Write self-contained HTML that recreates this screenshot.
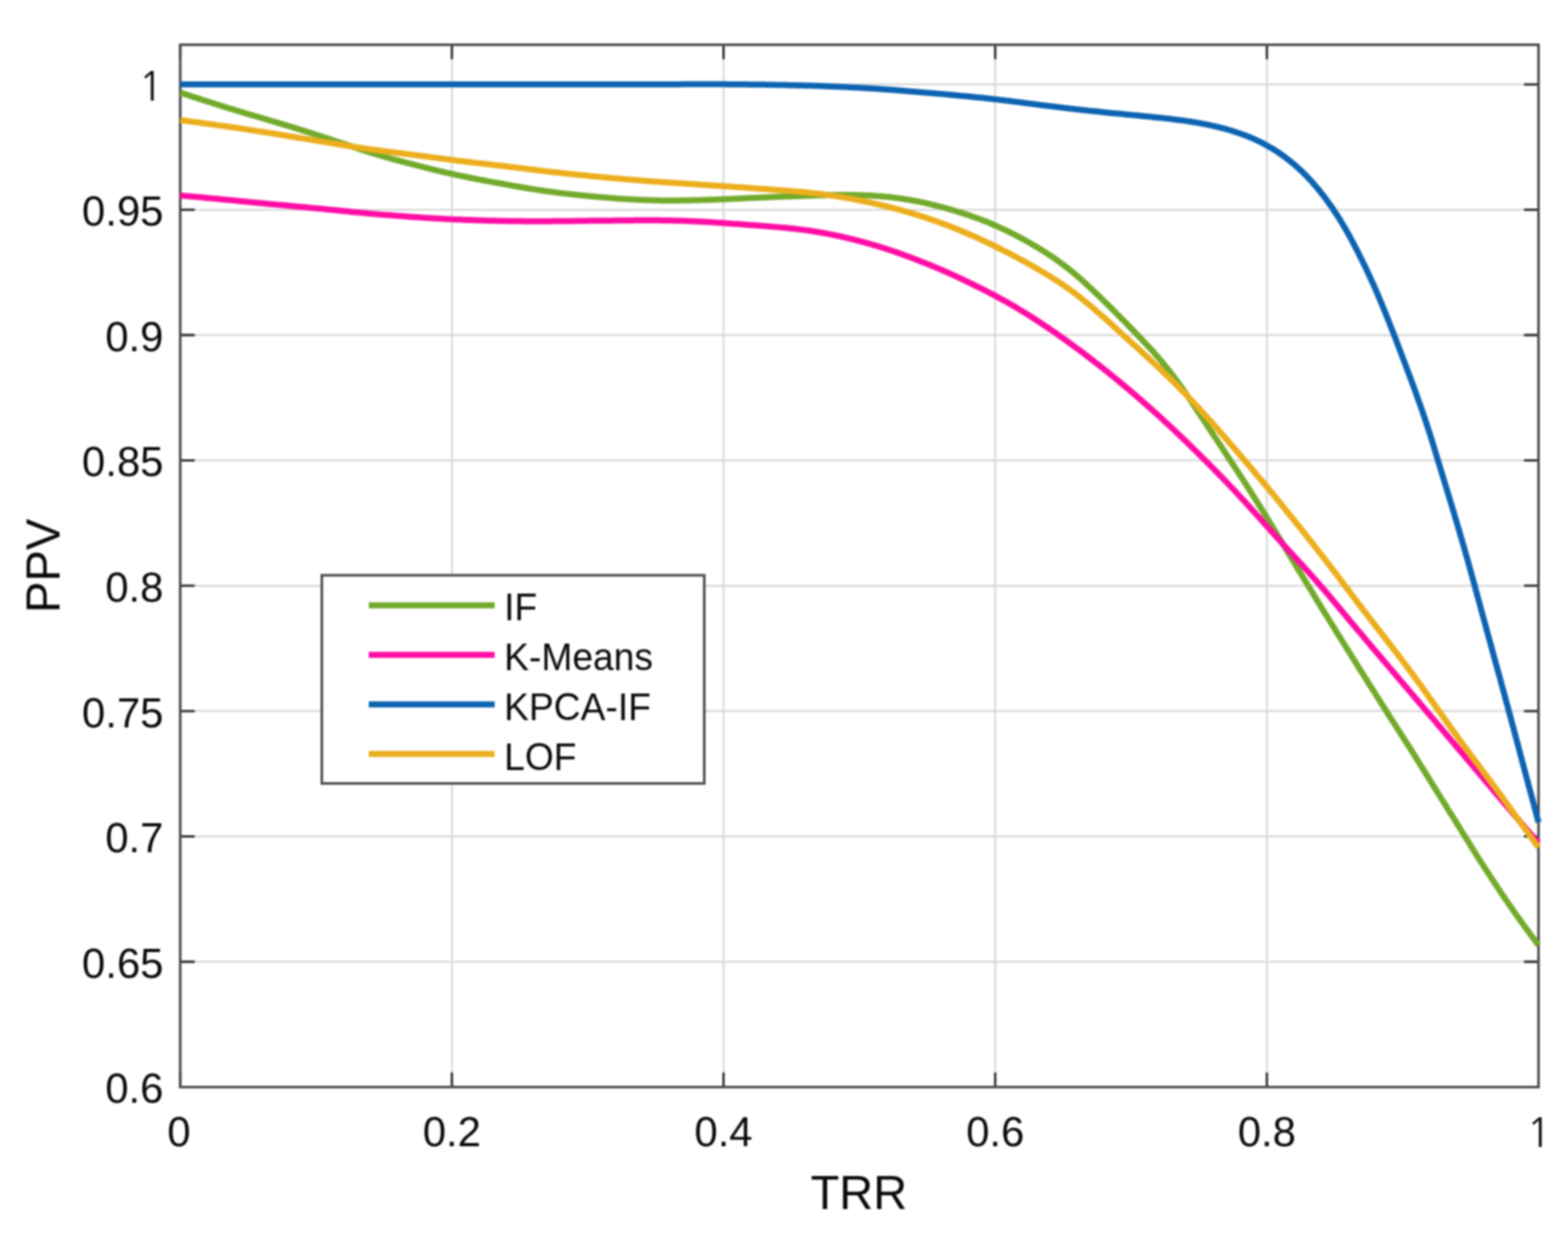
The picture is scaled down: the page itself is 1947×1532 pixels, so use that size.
<!DOCTYPE html><html><head><meta charset="utf-8"><style>html,body{margin:0;padding:0;background:#fff;width:1947px;height:1532px;overflow:hidden}svg{display:block;filter:blur(1px)}text{font-family:"Liberation Sans",Arial,sans-serif;fill:#0a0a0a}.one{font-family:"NanumGothic","Liberation Sans",sans-serif}</style></head><body>
<svg xmlns="http://www.w3.org/2000/svg" width="1947" height="1532" viewBox="0 0 1947 1532">
<rect width="1947" height="1532" fill="#fff"/>
<path d="M561.1 55.6 V1349.6 M898.4 55.6 V1349.6 M1235.8 55.6 V1349.6 M1573.1 55.6 V1349.6 M223.8 1194.0 H1910.4 M223.8 1038.4 H1910.4 M223.8 882.8 H1910.4 M223.8 727.2 H1910.4 M223.8 571.6 H1910.4 M223.8 416.0 H1910.4 M223.8 260.4 H1910.4 M223.8 104.8 H1910.4" stroke="#dadada" stroke-width="2.5" fill="none"/>
<path d="M223.8 1349.6 v-18 M223.8 55.6 v18 M561.1 1349.6 v-18 M561.1 55.6 v18 M898.4 1349.6 v-18 M898.4 55.6 v18 M1235.8 1349.6 v-18 M1235.8 55.6 v18 M1573.1 1349.6 v-18 M1573.1 55.6 v18 M1910.4 1349.6 v-18 M1910.4 55.6 v18 M223.8 1349.6 h18 M1910.4 1349.6 h-18 M223.8 1194.0 h18 M1910.4 1194.0 h-18 M223.8 1038.4 h18 M1910.4 1038.4 h-18 M223.8 882.8 h18 M1910.4 882.8 h-18 M223.8 727.2 h18 M1910.4 727.2 h-18 M223.8 571.6 h18 M1910.4 571.6 h-18 M223.8 416.0 h18 M1910.4 416.0 h-18 M223.8 260.4 h18 M1910.4 260.4 h-18 M223.8 104.8 h18 M1910.4 104.8 h-18" stroke="#262626" stroke-width="2.8" fill="none"/>
<rect x="223.8" y="55.6" width="1686.6" height="1294.0" fill="none" stroke="#4a4a4a" stroke-width="3.2"/>
<g fill="none" stroke-width="7.5" stroke-linejoin="round" stroke-linecap="butt">
<path d="M223.8 115.0 226.6 115.9 229.5 116.9 232.3 117.8 235.2 118.7 238.0 119.7 240.9 120.6 243.7 121.5 246.6 122.4 249.4 123.4 252.3 124.3 255.2 125.2 258.0 126.1 260.9 127.0 263.7 127.9 266.6 128.8 269.4 129.7 272.3 130.6 275.2 131.5 278.0 132.4 280.9 133.3 283.7 134.2 286.6 135.1 289.5 135.9 292.4 136.8 295.2 137.7 298.1 138.5 301.0 139.4 303.8 140.3 306.7 141.1 309.6 142.0 312.4 142.8 315.3 143.7 318.2 144.5 321.1 145.4 323.9 146.2 326.8 147.1 329.7 147.9 332.6 148.8 335.4 149.6 338.3 150.5 341.2 151.3 344.1 152.2 346.9 153.1 349.8 153.9 352.7 154.8 355.5 155.6 358.4 156.5 361.3 157.4 364.1 158.2 367.0 159.1 369.9 160.0 372.7 160.9 375.6 161.8 378.5 162.7 381.3 163.6 384.2 164.5 387.0 165.4 389.9 166.3 392.7 167.2 395.6 168.2 398.4 169.1 401.3 170.0 404.1 171.0 407.0 171.9 409.8 172.8 412.7 173.8 415.5 174.7 418.4 175.7 421.2 176.6 424.0 177.6 426.9 178.5 429.7 179.5 432.6 180.4 435.4 181.4 438.3 182.3 441.1 183.3 443.9 184.2 446.8 185.2 449.6 186.1 452.5 187.0 455.3 187.9 458.2 188.8 461.1 189.7 463.9 190.6 466.8 191.5 469.7 192.3 472.6 193.2 475.4 194.0 478.3 194.8 481.2 195.6 484.1 196.5 487.0 197.3 489.9 198.1 492.8 198.8 495.6 199.6 498.5 200.4 501.4 201.2 504.3 201.9 507.2 202.7 510.1 203.5 513.0 204.2 515.9 205.0 518.8 205.7 521.7 206.4 524.6 207.2 527.6 207.9 530.5 208.6 533.4 209.4 536.3 210.1 539.2 210.8 542.1 211.5 545.0 212.2 547.9 212.9 550.9 213.6 553.8 214.3 556.7 214.9 559.6 215.6 562.5 216.2 565.5 216.9 568.4 217.5 571.3 218.1 574.3 218.7 577.2 219.3 580.1 219.9 583.1 220.5 586.0 221.1 589.0 221.7 591.9 222.3 594.8 222.9 597.8 223.4 600.7 224.0 603.7 224.5 606.6 225.1 609.6 225.6 612.5 226.2 615.5 226.7 618.4 227.3 621.4 227.8 624.3 228.3 627.3 228.9 630.2 229.4 633.2 229.9 636.1 230.5 639.1 231.0 642.0 231.5 645.0 232.0 647.9 232.5 650.9 233.0 653.8 233.5 656.8 234.0 659.7 234.5 662.7 234.9 665.7 235.4 668.6 235.9 671.6 236.3 674.6 236.7 677.5 237.2 680.5 237.6 683.5 238.0 686.4 238.4 689.4 238.8 692.4 239.2 695.4 239.5 698.3 239.9 701.3 240.2 704.3 240.6 707.3 240.9 710.2 241.3 713.2 241.6 716.2 241.9 719.2 242.2 722.2 242.5 725.1 242.8 728.1 243.1 731.1 243.4 734.1 243.7 737.1 244.0 740.1 244.3 743.1 244.5 746.0 244.8 749.0 245.1 752.0 245.3 755.0 245.6 758.0 245.8 761.0 246.0 764.0 246.3 767.0 246.5 769.9 246.7 772.9 246.9 775.9 247.1 778.9 247.3 781.9 247.5 784.9 247.6 787.9 247.8 790.9 247.9 793.9 248.1 796.9 248.2 799.9 248.3 802.9 248.4 805.9 248.5 808.9 248.6 811.9 248.7 814.8 248.8 817.8 248.8 820.8 248.9 823.8 248.9 826.8 248.9 829.8 248.9 832.8 248.9 835.8 248.9 838.8 248.9 841.8 248.9 844.8 248.9 847.8 248.8 850.8 248.8 853.8 248.8 856.8 248.7 859.8 248.6 862.8 248.6 865.8 248.5 868.8 248.4 871.8 248.3 874.8 248.3 877.8 248.2 880.8 248.1 883.8 248.0 886.8 247.8 889.8 247.7 892.8 247.6 895.8 247.5 898.7 247.4 901.7 247.2 904.7 247.1 907.7 247.0 910.7 246.8 913.7 246.7 916.7 246.5 919.7 246.4 922.7 246.2 925.7 246.1 928.7 246.0 931.7 245.8 934.7 245.7 937.7 245.5 940.7 245.4 943.7 245.3 946.7 245.2 949.6 245.0 952.6 244.9 955.6 244.8 958.6 244.7 961.6 244.6 964.6 244.5 967.6 244.3 970.6 244.2 973.6 244.1 976.6 244.0 979.6 243.9 982.6 243.8 985.6 243.7 988.6 243.6 991.6 243.4 994.6 243.3 997.6 243.2 1000.6 243.1 1003.6 243.0 1006.6 242.9 1009.6 242.8 1012.5 242.7 1015.5 242.6 1018.5 242.5 1021.5 242.4 1024.5 242.4 1027.5 242.3 1030.5 242.2 1033.5 242.2 1036.5 242.1 1039.5 242.1 1042.5 242.0 1045.5 242.0 1048.5 242.0 1051.5 242.0 1054.5 242.0 1057.5 242.1 1060.5 242.1 1063.5 242.2 1066.5 242.2 1069.5 242.3 1072.5 242.4 1075.5 242.5 1078.5 242.7 1081.5 242.8 1084.5 243.0 1087.4 243.2 1090.4 243.4 1093.4 243.6 1096.4 243.9 1099.4 244.2 1102.4 244.5 1105.4 244.8 1108.3 245.1 1111.3 245.5 1114.3 245.9 1117.3 246.3 1120.2 246.7 1123.2 247.2 1126.1 247.6 1129.1 248.1 1132.1 248.7 1135.0 249.2 1137.9 249.8 1140.9 250.3 1143.8 250.9 1146.8 251.6 1149.7 252.2 1152.6 252.9 1155.5 253.6 1158.4 254.3 1161.3 255.0 1164.2 255.7 1167.2 256.5 1170.0 257.2 1172.9 258.0 1175.8 258.8 1178.7 259.6 1181.6 260.5 1184.5 261.3 1187.3 262.2 1190.2 263.1 1193.1 263.9 1195.9 264.9 1198.8 265.8 1201.6 266.7 1204.4 267.7 1207.3 268.7 1210.1 269.7 1212.9 270.7 1215.7 271.8 1218.5 272.8 1221.3 273.9 1224.1 275.0 1226.9 276.1 1229.7 277.3 1232.4 278.5 1235.2 279.7 1237.9 280.9 1240.6 282.1 1243.4 283.4 1246.1 284.6 1248.8 285.9 1251.5 287.2 1254.2 288.5 1256.9 289.9 1259.5 291.2 1262.2 292.6 1264.9 294.0 1267.5 295.4 1270.2 296.8 1272.8 298.2 1275.4 299.7 1278.0 301.2 1280.6 302.7 1283.2 304.2 1285.8 305.7 1288.3 307.2 1290.9 308.8 1293.4 310.4 1296.0 312.0 1298.5 313.6 1301.0 315.2 1303.5 316.9 1306.0 318.5 1308.5 320.2 1311.0 321.9 1313.4 323.7 1315.8 325.4 1318.3 327.2 1320.6 329.0 1323.0 330.8 1325.4 332.7 1327.7 334.5 1330.1 336.4 1332.4 338.3 1334.7 340.3 1336.9 342.2 1339.2 344.2 1341.5 346.1 1343.7 348.1 1345.9 350.1 1348.2 352.1 1350.4 354.2 1352.6 356.2 1354.8 358.2 1357.0 360.3 1359.1 362.4 1361.3 364.4 1363.5 366.5 1365.6 368.6 1367.8 370.7 1369.9 372.8 1372.0 374.9 1374.2 377.0 1376.3 379.1 1378.4 381.2 1380.6 383.3 1382.7 385.4 1384.8 387.5 1386.9 389.7 1389.0 391.8 1391.1 393.9 1393.2 396.1 1395.4 398.2 1397.5 400.3 1399.5 402.5 1401.6 404.6 1403.7 406.8 1405.8 408.9 1407.9 411.1 1410.0 413.2 1412.0 415.4 1414.1 417.6 1416.2 419.7 1418.2 421.9 1420.3 424.1 1422.4 426.3 1424.4 428.5 1426.4 430.7 1428.5 432.9 1430.5 435.1 1432.5 437.3 1434.5 439.6 1436.4 441.8 1438.4 444.1 1440.4 446.4 1442.3 448.7 1444.2 451.0 1446.1 453.3 1448.0 455.6 1449.9 457.9 1451.8 460.3 1453.6 462.6 1455.4 465.0 1457.3 467.4 1459.1 469.8 1460.9 472.2 1462.6 474.6 1464.4 477.0 1466.1 479.5 1467.9 481.9 1469.6 484.4 1471.3 486.8 1473.0 489.3 1474.7 491.8 1476.4 494.2 1478.1 496.7 1479.7 499.2 1481.4 501.7 1483.1 504.2 1484.8 506.7 1486.4 509.2 1488.1 511.7 1489.7 514.2 1491.4 516.7 1493.0 519.2 1494.7 521.7 1496.3 524.2 1498.0 526.7 1499.6 529.2 1501.3 531.7 1502.9 534.2 1504.6 536.7 1506.3 539.2 1507.9 541.7 1509.6 544.2 1511.2 546.7 1512.9 549.2 1514.5 551.7 1516.2 554.2 1517.8 556.7 1519.5 559.2 1521.1 561.7 1522.8 564.2 1524.4 566.7 1526.1 569.2 1527.7 571.7 1529.4 574.2 1531.0 576.7 1532.7 579.2 1534.3 581.7 1536.0 584.2 1537.6 586.7 1539.2 589.2 1540.9 591.7 1542.5 594.2 1544.2 596.7 1545.8 599.3 1547.4 601.8 1549.0 604.3 1550.6 606.8 1552.3 609.4 1553.9 611.9 1555.5 614.4 1557.1 616.9 1558.7 619.5 1560.3 622.0 1561.9 624.6 1563.4 627.1 1565.0 629.6 1566.6 632.2 1568.2 634.7 1569.8 637.3 1571.3 639.8 1572.9 642.4 1574.5 644.9 1576.0 647.5 1577.6 650.1 1579.2 652.6 1580.7 655.2 1582.3 657.7 1583.8 660.3 1585.4 662.9 1586.9 665.4 1588.5 668.0 1590.0 670.6 1591.6 673.1 1593.1 675.7 1594.7 678.3 1596.2 680.8 1597.8 683.4 1599.3 685.9 1600.9 688.5 1602.5 691.1 1604.0 693.6 1605.6 696.2 1607.1 698.8 1608.7 701.3 1610.2 703.9 1611.8 706.5 1613.3 709.0 1614.9 711.6 1616.4 714.1 1618.0 716.7 1619.6 719.3 1621.1 721.8 1622.7 724.4 1624.2 726.9 1625.8 729.5 1627.3 732.1 1628.9 734.6 1630.5 737.2 1632.0 739.8 1633.6 742.3 1635.1 744.9 1636.7 747.4 1638.3 750.0 1639.8 752.5 1641.4 755.1 1643.0 757.7 1644.5 760.2 1646.1 762.8 1647.7 765.3 1649.3 767.9 1650.8 770.4 1652.4 773.0 1654.0 775.5 1655.6 778.0 1657.2 780.6 1658.7 783.1 1660.3 785.7 1661.9 788.2 1663.5 790.8 1665.1 793.3 1666.7 795.9 1668.3 798.4 1669.8 800.9 1671.4 803.5 1673.0 806.0 1674.6 808.6 1676.2 811.1 1677.8 813.7 1679.4 816.2 1681.0 818.7 1682.5 821.3 1684.1 823.8 1685.7 826.4 1687.3 828.9 1688.9 831.4 1690.5 834.0 1692.1 836.5 1693.7 839.0 1695.3 841.6 1696.9 844.1 1698.5 846.7 1700.1 849.2 1701.7 851.7 1703.3 854.3 1704.9 856.8 1706.5 859.3 1708.1 861.9 1709.7 864.4 1711.3 866.9 1712.9 869.5 1714.5 872.0 1716.1 874.5 1717.7 877.1 1719.3 879.6 1720.9 882.1 1722.5 884.7 1724.1 887.2 1725.7 889.7 1727.3 892.2 1729.0 894.8 1730.6 897.3 1732.2 899.8 1733.8 902.3 1735.4 904.9 1737.1 907.4 1738.7 909.9 1740.3 912.4 1741.9 915.0 1743.5 917.5 1745.1 920.0 1746.7 922.5 1748.4 925.1 1750.0 927.6 1751.6 930.1 1753.2 932.7 1754.8 935.2 1756.4 937.7 1757.9 940.3 1759.5 942.8 1761.1 945.4 1762.7 947.9 1764.3 950.4 1765.9 953.0 1767.5 955.5 1769.0 958.1 1770.6 960.6 1772.2 963.2 1773.8 965.7 1775.4 968.3 1776.9 970.8 1778.5 973.4 1780.1 975.9 1781.7 978.5 1783.3 981.0 1784.8 983.5 1786.4 986.1 1788.0 988.6 1789.6 991.2 1791.2 993.7 1792.8 996.3 1794.4 998.8 1796.0 1001.3 1797.5 1003.9 1799.1 1006.4 1800.7 1009.0 1802.3 1011.5 1803.9 1014.1 1805.5 1016.6 1807.1 1019.1 1808.7 1021.7 1810.2 1024.2 1811.8 1026.8 1813.4 1029.3 1815.0 1031.9 1816.6 1034.4 1818.1 1037.0 1819.7 1039.5 1821.3 1042.1 1822.9 1044.6 1824.5 1047.1 1826.0 1049.7 1827.6 1052.2 1829.2 1054.8 1830.8 1057.3 1832.4 1059.9 1834.0 1062.4 1835.6 1064.9 1837.2 1067.5 1838.8 1070.0 1840.4 1072.5 1842.1 1075.0 1843.7 1077.6 1845.3 1080.1 1846.9 1082.6 1848.6 1085.1 1850.2 1087.6 1851.8 1090.1 1853.5 1092.6 1855.1 1095.1 1856.8 1097.6 1858.4 1100.1 1860.1 1102.6 1861.8 1105.1 1863.4 1107.6 1865.1 1110.1 1866.8 1112.6 1868.5 1115.0 1870.2 1117.5 1871.9 1120.0 1873.6 1122.5 1875.3 1124.9 1877.0 1127.4 1878.7 1129.9 1880.4 1132.3 1882.1 1134.8 1883.9 1137.2 1885.6 1139.7 1887.3 1142.1 1889.1 1144.5 1890.8 1147.0 1892.6 1149.4 1894.4 1151.8 1896.1 1154.2 1897.9 1156.6 1899.7 1159.1 1901.5 1161.5 1903.2 1163.9 1905.0 1166.3 1906.8 1168.7 1908.6 1171.1 1910.4 1173.5" stroke="#72aa2b"/>
<path d="M223.8 242.6 226.8 242.9 229.8 243.2 232.8 243.4 235.7 243.7 238.7 244.0 241.7 244.3 244.7 244.5 247.7 244.8 250.7 245.1 253.7 245.4 256.6 245.7 259.6 246.0 262.6 246.2 265.6 246.5 268.6 246.8 271.6 247.1 274.6 247.4 277.5 247.7 280.5 248.0 283.5 248.3 286.5 248.6 289.5 248.8 292.5 249.1 295.5 249.4 298.4 249.7 301.4 250.0 304.4 250.3 307.4 250.6 310.4 250.9 313.4 251.2 316.3 251.5 319.3 251.8 322.3 252.1 325.3 252.3 328.3 252.6 331.3 252.9 334.3 253.2 337.2 253.5 340.2 253.7 343.2 254.0 346.2 254.3 349.2 254.5 352.2 254.8 355.2 255.1 358.1 255.4 361.1 255.6 364.1 255.9 367.1 256.2 370.1 256.5 373.1 256.7 376.1 257.0 379.1 257.3 382.0 257.6 385.0 257.9 388.0 258.2 391.0 258.4 394.0 258.7 397.0 259.0 399.9 259.3 402.9 259.6 405.9 259.9 408.9 260.2 411.9 260.5 414.9 260.8 417.9 261.1 420.8 261.4 423.8 261.7 426.8 262.0 429.8 262.3 432.8 262.6 435.8 262.9 438.7 263.2 441.7 263.5 444.7 263.8 447.7 264.1 450.7 264.3 453.7 264.6 456.7 264.9 459.6 265.2 462.6 265.4 465.6 265.7 468.6 265.9 471.6 266.2 474.6 266.4 477.6 266.7 480.6 266.9 483.6 267.1 486.5 267.4 489.5 267.6 492.5 267.9 495.5 268.1 498.5 268.3 501.5 268.5 504.5 268.8 507.5 269.0 510.5 269.2 513.5 269.4 516.4 269.6 519.4 269.8 522.4 270.0 525.4 270.2 528.4 270.4 531.4 270.6 534.4 270.8 537.4 271.0 540.4 271.1 543.4 271.3 546.4 271.5 549.4 271.6 552.4 271.8 555.4 271.9 558.4 272.1 561.4 272.2 564.4 272.4 567.3 272.5 570.3 272.6 573.3 272.7 576.3 272.9 579.3 273.0 582.3 273.1 585.3 273.2 588.3 273.3 591.3 273.4 594.3 273.5 597.3 273.6 600.3 273.7 603.3 273.8 606.3 273.9 609.3 274.0 612.3 274.0 615.3 274.1 618.3 274.2 621.3 274.2 624.3 274.3 627.3 274.3 630.3 274.4 633.3 274.5 636.3 274.5 639.3 274.5 642.3 274.6 645.3 274.6 648.3 274.6 651.3 274.7 654.3 274.7 657.3 274.7 660.3 274.7 663.3 274.7 666.3 274.7 669.3 274.7 672.3 274.7 675.3 274.7 678.3 274.7 681.3 274.7 684.3 274.7 687.3 274.6 690.3 274.6 693.3 274.6 696.3 274.6 699.3 274.5 702.3 274.5 705.3 274.5 708.3 274.4 711.3 274.4 714.3 274.3 717.3 274.3 720.3 274.3 723.3 274.2 726.3 274.2 729.3 274.2 732.3 274.1 735.3 274.1 738.3 274.1 741.3 274.0 744.3 274.0 747.3 274.0 750.3 273.9 753.2 273.9 756.2 273.9 759.2 273.9 762.2 273.8 765.2 273.8 768.2 273.8 771.2 273.7 774.2 273.7 777.2 273.7 780.2 273.7 783.2 273.7 786.2 273.7 789.2 273.6 792.2 273.6 795.2 273.6 798.2 273.6 801.2 273.6 804.2 273.6 807.2 273.6 810.2 273.6 813.2 273.6 816.2 273.6 819.2 273.6 822.2 273.7 825.2 273.7 828.2 273.7 831.2 273.8 834.2 273.8 837.2 273.9 840.2 274.0 843.2 274.0 846.2 274.1 849.2 274.2 852.2 274.3 855.2 274.4 858.2 274.6 861.2 274.7 864.2 274.8 867.2 275.0 870.2 275.1 873.2 275.3 876.2 275.5 879.2 275.6 882.2 275.8 885.2 276.0 888.1 276.2 891.1 276.4 894.1 276.6 897.1 276.8 900.1 277.0 903.1 277.2 906.1 277.4 909.1 277.7 912.1 277.9 915.1 278.1 918.1 278.3 921.1 278.5 924.0 278.7 927.0 279.0 930.0 279.2 933.0 279.4 936.0 279.6 939.0 279.9 942.0 280.1 945.0 280.3 948.0 280.6 951.0 280.8 953.9 281.0 956.9 281.3 959.9 281.5 962.9 281.8 965.9 282.0 968.9 282.3 971.9 282.5 974.9 282.8 977.8 283.1 980.8 283.4 983.8 283.7 986.8 284.0 989.8 284.4 992.8 284.7 995.7 285.1 998.7 285.5 1001.7 285.9 1004.6 286.3 1007.6 286.8 1010.6 287.3 1013.5 287.7 1016.5 288.2 1019.4 288.7 1022.4 289.3 1025.3 289.8 1028.3 290.4 1031.2 290.9 1034.2 291.5 1037.1 292.1 1040.0 292.8 1043.0 293.4 1045.9 294.0 1048.8 294.7 1051.7 295.4 1054.7 296.1 1057.6 296.8 1060.5 297.5 1063.4 298.3 1066.3 299.0 1069.2 299.8 1072.1 300.5 1075.0 301.3 1077.9 302.1 1080.8 303.0 1083.6 303.8 1086.5 304.6 1089.4 305.5 1092.3 306.4 1095.1 307.3 1098.0 308.2 1100.8 309.1 1103.7 310.0 1106.5 311.0 1109.4 312.0 1112.2 312.9 1115.0 313.9 1117.9 314.9 1120.7 315.9 1123.5 317.0 1126.3 318.0 1129.1 319.0 1131.9 320.1 1134.7 321.2 1137.5 322.2 1140.3 323.3 1143.1 324.4 1145.9 325.5 1148.7 326.6 1151.5 327.7 1154.3 328.8 1157.1 330.0 1159.8 331.1 1162.6 332.3 1165.4 333.4 1168.1 334.6 1170.9 335.8 1173.6 337.0 1176.4 338.2 1179.1 339.4 1181.8 340.7 1184.6 341.9 1187.3 343.2 1190.0 344.4 1192.7 345.7 1195.4 347.0 1198.1 348.3 1200.8 349.6 1203.5 350.9 1206.2 352.2 1208.9 353.5 1211.6 354.8 1214.3 356.2 1217.0 357.5 1219.7 358.9 1222.3 360.2 1225.0 361.6 1227.7 363.0 1230.3 364.3 1233.0 365.7 1235.6 367.1 1238.3 368.6 1240.9 370.0 1243.6 371.4 1246.2 372.9 1248.8 374.3 1251.4 375.8 1254.0 377.3 1256.6 378.8 1259.2 380.3 1261.8 381.8 1264.4 383.4 1266.9 384.9 1269.5 386.5 1272.1 388.0 1274.6 389.6 1277.1 391.2 1279.7 392.8 1282.2 394.4 1284.7 396.0 1287.3 397.7 1289.8 399.3 1292.3 400.9 1294.8 402.6 1297.3 404.3 1299.8 405.9 1302.2 407.6 1304.7 409.3 1307.2 411.0 1309.7 412.7 1312.1 414.4 1314.6 416.2 1317.0 417.9 1319.5 419.6 1321.9 421.4 1324.4 423.1 1326.8 424.9 1329.2 426.6 1331.6 428.4 1334.0 430.2 1336.5 432.0 1338.9 433.7 1341.3 435.5 1343.7 437.3 1346.1 439.1 1348.5 441.0 1350.8 442.8 1353.2 444.6 1355.6 446.4 1358.0 448.3 1360.3 450.1 1362.7 451.9 1365.1 453.8 1367.4 455.6 1369.8 457.5 1372.1 459.4 1374.5 461.2 1376.8 463.1 1379.1 465.0 1381.5 466.9 1383.8 468.8 1386.1 470.7 1388.4 472.6 1390.7 474.5 1393.0 476.4 1395.3 478.3 1397.6 480.3 1399.9 482.2 1402.2 484.1 1404.5 486.1 1406.8 488.0 1409.1 490.0 1411.4 491.9 1413.6 493.9 1415.9 495.8 1418.1 497.8 1420.4 499.8 1422.7 501.8 1424.9 503.8 1427.1 505.8 1429.4 507.8 1431.6 509.8 1433.8 511.8 1436.1 513.8 1438.3 515.8 1440.5 517.8 1442.7 519.8 1444.9 521.9 1447.1 523.9 1449.3 525.9 1451.5 528.0 1453.7 530.0 1455.9 532.1 1458.1 534.1 1460.3 536.2 1462.4 538.3 1464.6 540.3 1466.8 542.4 1468.9 544.5 1471.1 546.6 1473.3 548.6 1475.4 550.7 1477.6 552.8 1479.7 554.9 1481.8 557.0 1484.0 559.1 1486.1 561.2 1488.3 563.3 1490.4 565.4 1492.5 567.6 1494.6 569.7 1496.8 571.8 1498.9 573.9 1501.0 576.0 1503.1 578.2 1505.2 580.3 1507.3 582.4 1509.4 584.6 1511.5 586.7 1513.6 588.9 1515.7 591.0 1517.8 593.2 1519.9 595.3 1521.9 597.5 1524.0 599.7 1526.1 601.8 1528.1 604.0 1530.2 606.2 1532.3 608.4 1534.3 610.6 1536.3 612.8 1538.4 615.0 1540.4 617.2 1542.5 619.4 1544.5 621.6 1546.5 623.8 1548.5 626.0 1550.6 628.2 1552.6 630.5 1554.6 632.7 1556.6 634.9 1558.6 637.1 1560.6 639.4 1562.6 641.6 1564.6 643.8 1566.6 646.1 1568.6 648.3 1570.6 650.5 1572.6 652.8 1574.6 655.0 1576.6 657.2 1578.6 659.5 1580.6 661.7 1582.6 663.9 1584.6 666.2 1586.6 668.4 1588.6 670.6 1590.6 672.8 1592.7 675.1 1594.7 677.3 1596.7 679.5 1598.7 681.7 1600.7 683.9 1602.8 686.1 1604.8 688.3 1606.8 690.6 1608.9 692.8 1610.9 695.0 1612.9 697.2 1614.9 699.4 1617.0 701.6 1619.0 703.8 1621.0 706.1 1623.0 708.3 1625.0 710.5 1627.0 712.7 1629.0 715.0 1631.0 717.2 1633.0 719.5 1635.0 721.7 1636.9 724.0 1638.9 726.2 1640.9 728.5 1642.8 730.8 1644.8 733.1 1646.7 735.3 1648.7 737.6 1650.6 739.9 1652.5 742.2 1654.4 744.5 1656.4 746.8 1658.3 749.1 1660.2 751.4 1662.1 753.7 1664.1 756.0 1666.0 758.3 1667.9 760.6 1669.8 762.9 1671.7 765.2 1673.7 767.5 1675.6 769.8 1677.5 772.1 1679.4 774.4 1681.4 776.7 1683.3 779.0 1685.2 781.3 1687.1 783.6 1689.1 785.9 1691.0 788.2 1692.9 790.5 1694.9 792.8 1696.8 795.1 1698.7 797.4 1700.7 799.7 1702.6 802.0 1704.5 804.3 1706.5 806.6 1708.4 808.8 1710.4 811.1 1712.3 813.4 1714.2 815.7 1716.2 818.0 1718.1 820.3 1720.1 822.6 1722.0 824.9 1723.9 827.1 1725.9 829.4 1727.8 831.7 1729.8 834.0 1731.7 836.3 1733.7 838.6 1735.6 840.8 1737.5 843.1 1739.5 845.4 1741.4 847.7 1743.4 850.0 1745.3 852.3 1747.3 854.5 1749.2 856.8 1751.1 859.1 1753.1 861.4 1755.0 863.7 1757.0 866.0 1758.9 868.3 1760.9 870.5 1762.8 872.8 1764.7 875.1 1766.7 877.4 1768.6 879.7 1770.6 882.0 1772.5 884.3 1774.4 886.5 1776.4 888.8 1778.3 891.1 1780.3 893.4 1782.2 895.7 1784.1 898.0 1786.1 900.3 1788.0 902.6 1790.0 904.8 1791.9 907.1 1793.8 909.4 1795.8 911.7 1797.7 914.0 1799.6 916.3 1801.6 918.6 1803.5 920.9 1805.5 923.2 1807.4 925.5 1809.3 927.7 1811.3 930.0 1813.2 932.3 1815.1 934.6 1817.1 936.9 1819.0 939.2 1820.9 941.5 1822.9 943.8 1824.8 946.1 1826.7 948.4 1828.7 950.7 1830.6 953.0 1832.5 955.3 1834.5 957.5 1836.4 959.8 1838.3 962.1 1840.3 964.4 1842.2 966.7 1844.1 969.0 1846.1 971.3 1848.0 973.6 1849.9 975.9 1851.9 978.2 1853.8 980.5 1855.7 982.8 1857.7 985.1 1859.6 987.3 1861.5 989.6 1863.5 991.9 1865.4 994.2 1867.4 996.5 1869.3 998.8 1871.2 1001.1 1873.2 1003.3 1875.1 1005.6 1877.1 1007.9 1879.0 1010.2 1881.0 1012.5 1882.9 1014.7 1884.9 1017.0 1886.8 1019.3 1888.8 1021.6 1890.8 1023.8 1892.7 1026.1 1894.7 1028.4 1896.6 1030.6 1898.6 1032.9 1900.6 1035.2 1902.5 1037.4 1904.5 1039.7 1906.5 1042.0 1908.4 1044.2 1910.4 1046.5" stroke="#ff0da5"/>
<path d="M223.8 104.7 226.8 104.7 229.8 104.7 232.8 104.7 235.8 104.7 238.8 104.7 241.8 104.7 244.8 104.7 247.8 104.7 250.8 104.7 253.8 104.7 256.8 104.7 259.8 104.7 262.8 104.7 265.7 104.7 268.7 104.7 271.7 104.7 274.7 104.7 277.7 104.7 280.7 104.7 283.7 104.7 286.7 104.7 289.7 104.7 292.7 104.7 295.7 104.7 298.7 104.7 301.7 104.7 304.7 104.7 307.7 104.7 310.7 104.7 313.7 104.7 316.7 104.7 319.7 104.7 322.7 104.7 325.7 104.7 328.7 104.7 331.7 104.7 334.7 104.7 337.7 104.7 340.7 104.7 343.7 104.7 346.7 104.7 349.6 104.7 352.6 104.7 355.6 104.7 358.6 104.7 361.6 104.7 364.6 104.7 367.6 104.7 370.6 104.7 373.6 104.7 376.6 104.7 379.6 104.7 382.6 104.7 385.6 104.7 388.6 104.7 391.6 104.7 394.6 104.7 397.6 104.7 400.6 104.7 403.6 104.7 406.6 104.7 409.6 104.7 412.6 104.7 415.6 104.7 418.6 104.7 421.6 104.7 424.6 104.7 427.6 104.7 430.5 104.7 433.5 104.7 436.5 104.7 439.5 104.7 442.5 104.7 445.5 104.7 448.5 104.7 451.5 104.7 454.5 104.7 457.5 104.7 460.5 104.7 463.5 104.7 466.5 104.7 469.5 104.7 472.5 104.7 475.5 104.7 478.5 104.7 481.5 104.7 484.5 104.7 487.5 104.7 490.5 104.7 493.5 104.7 496.5 104.7 499.5 104.7 502.5 104.7 505.5 104.7 508.5 104.7 511.5 104.7 514.4 104.7 517.4 104.7 520.4 104.7 523.4 104.7 526.4 104.7 529.4 104.7 532.4 104.7 535.4 104.7 538.4 104.7 541.4 104.7 544.4 104.7 547.4 104.7 550.4 104.7 553.4 104.7 556.4 104.7 559.4 104.7 562.4 104.7 565.4 104.7 568.4 104.7 571.4 104.7 574.4 104.7 577.4 104.7 580.4 104.7 583.4 104.7 586.4 104.7 589.4 104.7 592.4 104.7 595.3 104.7 598.3 104.7 601.3 104.7 604.3 104.7 607.3 104.7 610.3 104.7 613.3 104.7 616.3 104.7 619.3 104.7 622.3 104.7 625.3 104.7 628.3 104.7 631.3 104.7 634.3 104.7 637.3 104.7 640.3 104.7 643.3 104.7 646.3 104.7 649.3 104.7 652.3 104.7 655.3 104.7 658.3 104.7 661.3 104.7 664.3 104.7 667.3 104.7 670.3 104.7 673.3 104.7 676.3 104.7 679.2 104.7 682.2 104.7 685.2 104.7 688.2 104.7 691.2 104.7 694.2 104.7 697.2 104.7 700.2 104.7 703.2 104.7 706.2 104.7 709.2 104.7 712.2 104.7 715.2 104.7 718.2 104.7 721.2 104.7 724.2 104.7 727.2 104.7 730.2 104.7 733.2 104.7 736.2 104.7 739.2 104.7 742.2 104.7 745.2 104.7 748.2 104.7 751.2 104.7 754.2 104.7 757.2 104.7 760.1 104.7 763.1 104.7 766.1 104.7 769.1 104.7 772.1 104.7 775.1 104.7 778.1 104.7 781.1 104.7 784.1 104.7 787.1 104.7 790.1 104.7 793.1 104.7 796.1 104.7 799.1 104.7 802.1 104.7 805.1 104.7 808.1 104.7 811.1 104.7 814.1 104.7 817.1 104.7 820.1 104.7 823.1 104.7 826.1 104.7 829.1 104.7 832.1 104.7 835.1 104.7 838.1 104.7 841.1 104.7 844.0 104.7 847.0 104.6 850.0 104.6 853.0 104.6 856.0 104.6 859.0 104.6 862.0 104.6 865.0 104.6 868.0 104.6 871.0 104.6 874.0 104.6 877.0 104.6 880.0 104.6 883.0 104.6 886.0 104.6 889.0 104.6 892.0 104.6 895.0 104.6 898.0 104.6 901.0 104.6 904.0 104.7 907.0 104.7 910.0 104.7 913.0 104.7 916.0 104.7 919.0 104.8 922.0 104.8 924.9 104.8 927.9 104.8 930.9 104.9 933.9 104.9 936.9 105.0 939.9 105.0 942.9 105.0 945.9 105.1 948.9 105.1 951.9 105.2 954.9 105.2 957.9 105.3 960.9 105.3 963.9 105.4 966.9 105.4 969.9 105.5 972.9 105.5 975.9 105.6 978.9 105.7 981.9 105.7 984.9 105.8 987.9 105.9 990.9 105.9 993.9 106.0 996.8 106.1 999.8 106.2 1002.8 106.3 1005.8 106.3 1008.8 106.4 1011.8 106.5 1014.8 106.6 1017.8 106.7 1020.8 106.8 1023.8 106.9 1026.8 107.0 1029.8 107.2 1032.8 107.3 1035.8 107.4 1038.8 107.5 1041.8 107.7 1044.8 107.8 1047.8 107.9 1050.7 108.1 1053.7 108.2 1056.7 108.4 1059.7 108.5 1062.7 108.7 1065.7 108.8 1068.7 109.0 1071.7 109.2 1074.7 109.4 1077.7 109.5 1080.7 109.7 1083.7 109.9 1086.6 110.1 1089.6 110.3 1092.6 110.5 1095.6 110.7 1098.6 110.9 1101.6 111.1 1104.6 111.4 1107.6 111.6 1110.6 111.8 1113.5 112.0 1116.5 112.3 1119.5 112.5 1122.5 112.7 1125.5 113.0 1128.5 113.2 1131.5 113.5 1134.4 113.7 1137.4 114.0 1140.4 114.2 1143.4 114.5 1146.4 114.7 1149.4 115.0 1152.4 115.2 1155.3 115.5 1158.3 115.7 1161.3 116.0 1164.3 116.3 1167.3 116.5 1170.3 116.8 1173.3 117.1 1176.2 117.3 1179.2 117.6 1182.2 117.9 1185.2 118.1 1188.2 118.4 1191.2 118.7 1194.1 119.0 1197.1 119.2 1200.1 119.5 1203.1 119.8 1206.1 120.1 1209.1 120.4 1212.0 120.7 1215.0 121.0 1218.0 121.3 1221.0 121.6 1224.0 121.9 1226.9 122.3 1229.9 122.6 1232.9 122.9 1235.9 123.3 1238.8 123.6 1241.8 124.0 1244.8 124.3 1247.8 124.7 1250.7 125.1 1253.7 125.4 1256.7 125.8 1259.7 126.2 1262.6 126.5 1265.6 126.9 1268.6 127.3 1271.6 127.7 1274.5 128.1 1277.5 128.5 1280.5 128.8 1283.4 129.2 1286.4 129.6 1289.4 130.0 1292.4 130.4 1295.3 130.7 1298.3 131.1 1301.3 131.5 1304.3 131.8 1307.2 132.2 1310.2 132.6 1313.2 132.9 1316.2 133.3 1319.1 133.6 1322.1 134.0 1325.1 134.3 1328.1 134.7 1331.0 135.0 1334.0 135.4 1337.0 135.7 1340.0 136.1 1342.9 136.4 1345.9 136.7 1348.9 137.0 1351.9 137.4 1354.9 137.7 1357.8 138.0 1360.8 138.3 1363.8 138.6 1366.8 138.9 1369.8 139.3 1372.7 139.6 1375.7 139.9 1378.7 140.2 1381.7 140.5 1384.7 140.7 1387.6 141.0 1390.6 141.3 1393.6 141.6 1396.6 141.9 1399.6 142.2 1402.6 142.5 1405.5 142.8 1408.5 143.0 1411.5 143.3 1414.5 143.6 1417.5 143.9 1420.5 144.2 1423.4 144.5 1426.4 144.8 1429.4 145.1 1432.4 145.4 1435.4 145.7 1438.3 146.0 1441.3 146.3 1444.3 146.6 1447.3 147.0 1450.3 147.3 1453.2 147.6 1456.2 148.0 1459.2 148.4 1462.2 148.7 1465.1 149.1 1468.1 149.5 1471.1 149.9 1474.0 150.4 1477.0 150.8 1479.9 151.3 1482.9 151.8 1485.9 152.2 1488.8 152.8 1491.8 153.3 1494.7 153.9 1497.6 154.4 1500.6 155.0 1503.5 155.6 1506.4 156.3 1509.4 157.0 1512.3 157.7 1515.2 158.4 1518.1 159.1 1521.0 159.9 1523.9 160.7 1526.7 161.5 1529.6 162.4 1532.5 163.3 1535.3 164.2 1538.2 165.2 1541.0 166.2 1543.8 167.2 1546.6 168.3 1549.4 169.3 1552.2 170.5 1554.9 171.6 1557.7 172.8 1560.4 174.1 1563.1 175.4 1565.8 176.7 1568.5 178.1 1571.1 179.5 1573.7 180.9 1576.3 182.4 1578.9 183.9 1581.5 185.5 1584.0 187.1 1586.5 188.7 1589.0 190.4 1591.5 192.1 1593.9 193.9 1596.3 195.6 1598.7 197.5 1601.0 199.3 1603.4 201.2 1605.7 203.1 1608.0 205.0 1610.2 207.0 1612.4 209.0 1614.6 211.1 1616.8 213.1 1618.9 215.2 1621.1 217.3 1623.2 219.5 1625.2 221.7 1627.3 223.9 1629.3 226.1 1631.3 228.3 1633.2 230.6 1635.2 232.9 1637.1 235.2 1639.0 237.5 1640.8 239.9 1642.7 242.2 1644.5 244.6 1646.3 247.0 1648.1 249.4 1649.8 251.8 1651.5 254.3 1653.3 256.7 1655.0 259.2 1656.6 261.7 1658.3 264.2 1659.9 266.7 1661.6 269.2 1663.2 271.7 1664.7 274.3 1666.3 276.8 1667.8 279.4 1669.4 282.0 1670.9 284.6 1672.4 287.2 1673.8 289.8 1675.3 292.4 1676.7 295.0 1678.2 297.7 1679.6 300.3 1681.0 303.0 1682.4 305.6 1683.7 308.3 1685.1 311.0 1686.5 313.6 1687.8 316.3 1689.1 319.0 1690.5 321.7 1691.8 324.4 1693.1 327.0 1694.4 329.7 1695.7 332.4 1697.0 335.1 1698.3 337.9 1699.6 340.6 1700.8 343.3 1702.1 346.0 1703.3 348.7 1704.5 351.5 1705.8 354.2 1707.0 356.9 1708.2 359.7 1709.4 362.4 1710.6 365.2 1711.7 367.9 1712.9 370.7 1714.1 373.5 1715.2 376.2 1716.4 379.0 1717.5 381.8 1718.6 384.5 1719.8 387.3 1720.9 390.1 1722.0 392.9 1723.1 395.7 1724.2 398.4 1725.3 401.2 1726.4 404.0 1727.5 406.8 1728.6 409.6 1729.7 412.4 1730.8 415.2 1731.9 418.0 1733.0 420.8 1734.0 423.6 1735.1 426.4 1736.2 429.2 1737.2 432.0 1738.3 434.8 1739.4 437.6 1740.4 440.4 1741.5 443.2 1742.5 446.0 1743.6 448.8 1744.7 451.6 1745.7 454.4 1746.8 457.2 1747.8 460.0 1748.9 462.8 1749.9 465.6 1751.0 468.4 1752.0 471.2 1753.0 474.0 1754.1 476.8 1755.1 479.7 1756.2 482.5 1757.2 485.3 1758.2 488.1 1759.2 490.9 1760.2 493.7 1761.2 496.6 1762.2 499.4 1763.2 502.2 1764.2 505.0 1765.2 507.9 1766.2 510.7 1767.1 513.5 1768.1 516.4 1769.1 519.2 1770.0 522.1 1771.0 524.9 1771.9 527.8 1772.8 530.6 1773.8 533.5 1774.7 536.3 1775.6 539.2 1776.5 542.0 1777.4 544.9 1778.3 547.7 1779.2 550.6 1780.0 553.5 1780.9 556.3 1781.8 559.2 1782.6 562.1 1783.5 564.9 1784.4 567.8 1785.2 570.7 1786.1 573.5 1787.0 576.4 1787.9 579.3 1788.7 582.1 1789.6 585.0 1790.5 587.9 1791.3 590.7 1792.2 593.6 1793.1 596.5 1794.0 599.3 1794.8 602.2 1795.7 605.1 1796.6 607.9 1797.4 610.8 1798.3 613.7 1799.2 616.5 1800.1 619.4 1800.9 622.3 1801.8 625.1 1802.7 628.0 1803.5 630.9 1804.4 633.7 1805.3 636.6 1806.1 639.5 1807.0 642.4 1807.8 645.2 1808.7 648.1 1809.5 651.0 1810.4 653.9 1811.2 656.7 1812.1 659.6 1812.9 662.5 1813.7 665.4 1814.6 668.2 1815.4 671.1 1816.2 674.0 1817.1 676.9 1817.9 679.7 1818.7 682.6 1819.5 685.5 1820.3 688.4 1821.2 691.3 1822.0 694.2 1822.8 697.1 1823.6 699.9 1824.4 702.8 1825.2 705.7 1826.0 708.6 1826.8 711.5 1827.6 714.4 1828.4 717.3 1829.2 720.2 1830.0 723.0 1830.8 725.9 1831.6 728.8 1832.3 731.7 1833.1 734.6 1833.9 737.5 1834.7 740.4 1835.5 743.3 1836.3 746.2 1837.1 749.1 1837.9 751.9 1838.6 754.8 1839.4 757.7 1840.2 760.6 1841.0 763.5 1841.8 766.4 1842.6 769.3 1843.4 772.2 1844.2 775.1 1845.0 778.0 1845.7 780.9 1846.5 783.7 1847.3 786.6 1848.1 789.5 1848.9 792.4 1849.7 795.3 1850.5 798.2 1851.3 801.1 1852.1 804.0 1852.9 806.9 1853.7 809.8 1854.4 812.6 1855.2 815.5 1856.0 818.4 1856.8 821.3 1857.6 824.2 1858.4 827.1 1859.2 830.0 1860.0 832.9 1860.8 835.8 1861.6 838.7 1862.4 841.5 1863.2 844.4 1863.9 847.3 1864.7 850.2 1865.5 853.1 1866.3 856.0 1867.1 858.9 1867.9 861.8 1868.7 864.7 1869.4 867.6 1870.2 870.5 1871.0 873.4 1871.8 876.2 1872.6 879.1 1873.3 882.0 1874.1 884.9 1874.9 887.8 1875.7 890.7 1876.5 893.6 1877.2 896.5 1878.0 899.4 1878.8 902.3 1879.6 905.2 1880.3 908.1 1881.1 911.0 1881.9 913.9 1882.6 916.8 1883.4 919.7 1884.2 922.6 1885.0 925.4 1885.7 928.3 1886.5 931.2 1887.3 934.1 1888.0 937.0 1888.8 939.9 1889.6 942.8 1890.3 945.7 1891.1 948.6 1891.9 951.5 1892.6 954.4 1893.4 957.3 1894.2 960.2 1894.9 963.1 1895.7 966.0 1896.5 968.9 1897.3 971.8 1898.0 974.7 1898.8 977.6 1899.6 980.5 1900.4 983.4 1901.2 986.3 1901.9 989.1 1902.7 992.0 1903.5 994.9 1904.3 997.8 1905.0 1000.7 1905.8 1003.6 1906.6 1006.5 1907.3 1009.4 1908.1 1012.3 1908.9 1015.2 1909.6 1018.1 1910.4 1021.0" stroke="#0c63b1"/>
<path d="M223.8 149.1 226.8 149.5 229.7 149.9 232.7 150.3 235.7 150.7 238.7 151.1 241.6 151.5 244.6 151.9 247.6 152.3 250.6 152.7 253.5 153.1 256.5 153.5 259.5 153.9 262.4 154.3 265.4 154.7 268.4 155.1 271.4 155.6 274.3 156.0 277.3 156.4 280.3 156.8 283.2 157.3 286.2 157.7 289.2 158.1 292.1 158.5 295.1 159.0 298.1 159.4 301.0 159.9 304.0 160.3 307.0 160.8 309.9 161.2 312.9 161.7 315.9 162.1 318.8 162.6 321.8 163.0 324.8 163.5 327.7 164.0 330.7 164.4 333.7 164.9 336.6 165.4 339.6 165.8 342.5 166.3 345.5 166.8 348.5 167.3 351.4 167.8 354.4 168.2 357.4 168.7 360.3 169.2 363.3 169.7 366.2 170.2 369.2 170.7 372.2 171.2 375.1 171.6 378.1 172.1 381.0 172.6 384.0 173.1 387.0 173.6 389.9 174.1 392.9 174.6 395.8 175.1 398.8 175.6 401.7 176.1 404.7 176.6 407.7 177.1 410.6 177.5 413.6 178.0 416.5 178.5 419.5 179.0 422.5 179.5 425.4 180.0 428.4 180.5 431.3 181.0 434.3 181.4 437.3 181.9 440.2 182.4 443.2 182.9 446.2 183.3 449.1 183.8 452.1 184.2 455.1 184.7 458.0 185.1 461.0 185.5 464.0 185.9 466.9 186.3 469.9 186.7 472.9 187.1 475.9 187.5 478.8 187.9 481.8 188.3 484.8 188.6 487.8 189.0 490.7 189.4 493.7 189.7 496.7 190.1 499.7 190.5 502.7 190.9 505.6 191.2 508.6 191.6 511.6 192.0 514.6 192.4 517.5 192.8 520.5 193.2 523.5 193.6 526.5 193.9 529.4 194.3 532.4 194.7 535.4 195.1 538.3 195.5 541.3 195.9 544.3 196.3 547.3 196.7 550.2 197.1 553.2 197.5 556.2 197.9 559.2 198.3 562.1 198.6 565.1 199.0 568.1 199.4 571.1 199.7 574.1 200.1 577.0 200.5 580.0 200.8 583.0 201.2 586.0 201.5 588.9 201.9 591.9 202.2 594.9 202.6 597.9 202.9 600.9 203.3 603.8 203.6 606.8 204.0 609.8 204.3 612.8 204.7 615.8 205.0 618.7 205.4 621.7 205.7 624.7 206.1 627.7 206.4 630.7 206.8 633.6 207.2 636.6 207.5 639.6 207.9 642.6 208.3 645.5 208.6 648.5 209.0 651.5 209.4 654.5 209.7 657.5 210.1 660.4 210.5 663.4 210.8 666.4 211.2 669.4 211.5 672.3 211.9 675.3 212.3 678.3 212.6 681.3 213.0 684.3 213.3 687.2 213.7 690.2 214.0 693.2 214.3 696.2 214.7 699.2 215.0 702.1 215.3 705.1 215.7 708.1 216.0 711.1 216.3 714.1 216.6 717.1 216.9 720.0 217.2 723.0 217.5 726.0 217.8 729.0 218.1 732.0 218.4 735.0 218.7 738.0 219.0 740.9 219.3 743.9 219.6 746.9 219.8 749.9 220.1 752.9 220.4 755.9 220.7 758.9 220.9 761.9 221.2 764.8 221.5 767.8 221.8 770.8 222.0 773.8 222.3 776.8 222.5 779.8 222.8 782.8 223.0 785.8 223.3 788.7 223.5 791.7 223.8 794.7 224.0 797.7 224.3 800.7 224.5 803.7 224.7 806.7 224.9 809.7 225.2 812.7 225.4 815.7 225.6 818.7 225.8 821.7 226.0 824.6 226.2 827.6 226.4 830.6 226.6 833.6 226.8 836.6 227.0 839.6 227.2 842.6 227.4 845.6 227.6 848.6 227.8 851.6 228.0 854.6 228.2 857.6 228.4 860.6 228.6 863.6 228.8 866.6 229.0 869.5 229.2 872.5 229.4 875.5 229.6 878.5 229.8 881.5 230.0 884.5 230.2 887.5 230.4 890.5 230.6 893.5 230.8 896.5 231.0 899.5 231.2 902.5 231.4 905.5 231.6 908.5 231.8 911.5 232.0 914.4 232.2 917.4 232.4 920.4 232.6 923.4 232.8 926.4 233.1 929.4 233.3 932.4 233.5 935.4 233.7 938.4 233.9 941.4 234.2 944.4 234.4 947.4 234.6 950.3 234.8 953.3 235.0 956.3 235.3 959.3 235.5 962.3 235.7 965.3 235.9 968.3 236.1 971.3 236.3 974.3 236.6 977.3 236.8 980.3 237.0 983.3 237.3 986.2 237.5 989.2 237.8 992.2 238.0 995.2 238.3 998.2 238.6 1001.2 238.9 1004.2 239.2 1007.1 239.5 1010.1 239.9 1013.1 240.2 1016.1 240.6 1019.1 240.9 1022.0 241.3 1025.0 241.7 1028.0 242.1 1031.0 242.6 1033.9 243.0 1036.9 243.4 1039.9 243.9 1042.8 244.4 1045.8 244.8 1048.7 245.3 1051.7 245.9 1054.6 246.4 1057.6 246.9 1060.5 247.5 1063.5 248.0 1066.4 248.6 1069.4 249.2 1072.3 249.8 1075.3 250.4 1078.2 251.0 1081.1 251.6 1084.1 252.3 1087.0 252.9 1089.9 253.6 1092.8 254.3 1095.7 255.0 1098.7 255.7 1101.6 256.4 1104.5 257.2 1107.4 257.9 1110.3 258.7 1113.2 259.4 1116.1 260.2 1119.0 261.0 1121.9 261.8 1124.7 262.7 1127.6 263.5 1130.5 264.4 1133.4 265.2 1136.2 266.1 1139.1 267.0 1142.0 267.9 1144.8 268.8 1147.7 269.7 1150.5 270.6 1153.4 271.6 1156.2 272.5 1159.1 273.5 1161.9 274.5 1164.7 275.5 1167.5 276.5 1170.4 277.6 1173.2 278.6 1176.0 279.7 1178.8 280.7 1181.6 281.8 1184.4 282.9 1187.1 284.0 1189.9 285.2 1192.7 286.3 1195.5 287.5 1198.2 288.6 1201.0 289.8 1203.7 291.0 1206.5 292.2 1209.2 293.4 1212.0 294.7 1214.7 295.9 1217.4 297.1 1220.2 298.4 1222.9 299.7 1225.6 300.9 1228.3 302.2 1231.0 303.5 1233.7 304.8 1236.4 306.2 1239.1 307.5 1241.8 308.8 1244.5 310.2 1247.1 311.5 1249.8 312.9 1252.5 314.2 1255.1 315.6 1257.8 317.0 1260.4 318.4 1263.1 319.8 1265.7 321.3 1268.4 322.7 1271.0 324.1 1273.6 325.6 1276.2 327.1 1278.8 328.5 1281.5 330.0 1284.1 331.5 1286.7 333.0 1289.3 334.5 1291.8 336.0 1294.4 337.6 1297.0 339.1 1299.6 340.6 1302.1 342.2 1304.7 343.8 1307.2 345.4 1309.8 347.0 1312.3 348.6 1314.8 350.2 1317.3 351.9 1319.8 353.6 1322.3 355.2 1324.7 357.0 1327.2 358.7 1329.6 360.5 1332.0 362.2 1334.4 364.0 1336.8 365.9 1339.2 367.7 1341.5 369.6 1343.9 371.4 1346.2 373.3 1348.5 375.2 1350.9 377.1 1353.2 379.0 1355.5 381.0 1357.7 382.9 1360.0 384.9 1362.3 386.8 1364.6 388.8 1366.8 390.8 1369.1 392.7 1371.3 394.7 1373.5 396.7 1375.8 398.7 1378.0 400.8 1380.2 402.8 1382.4 404.8 1384.7 406.8 1386.9 408.8 1389.1 410.9 1391.3 412.9 1393.5 414.9 1395.7 416.9 1398.0 418.9 1400.2 421.0 1402.4 423.0 1404.6 425.0 1406.8 427.0 1409.0 429.0 1411.3 431.1 1413.5 433.1 1415.7 435.1 1417.9 437.1 1420.1 439.2 1422.3 441.2 1424.5 443.2 1426.7 445.3 1428.9 447.3 1431.1 449.4 1433.3 451.4 1435.5 453.5 1437.7 455.5 1439.9 457.6 1442.0 459.6 1444.2 461.7 1446.4 463.8 1448.5 465.8 1450.7 467.9 1452.9 470.0 1455.0 472.1 1457.1 474.2 1459.3 476.3 1461.4 478.5 1463.5 480.6 1465.6 482.7 1467.7 484.9 1469.8 487.0 1471.9 489.2 1474.0 491.3 1476.1 493.5 1478.1 495.6 1480.2 497.8 1482.3 500.0 1484.3 502.2 1486.4 504.4 1488.4 506.6 1490.4 508.8 1492.5 511.0 1494.5 513.2 1496.5 515.4 1498.5 517.7 1500.5 519.9 1502.5 522.1 1504.5 524.3 1506.5 526.6 1508.5 528.8 1510.5 531.1 1512.5 533.3 1514.5 535.6 1516.5 537.8 1518.4 540.1 1520.4 542.4 1522.4 544.6 1524.3 546.9 1526.3 549.2 1528.2 551.4 1530.2 553.7 1532.2 556.0 1534.1 558.3 1536.1 560.5 1538.0 562.8 1540.0 565.1 1541.9 567.4 1543.8 569.7 1545.8 572.0 1547.7 574.2 1549.7 576.5 1551.6 578.8 1553.6 581.1 1555.5 583.4 1557.4 585.7 1559.4 588.0 1561.3 590.3 1563.2 592.6 1565.2 594.9 1567.1 597.2 1569.0 599.5 1570.9 601.8 1572.9 604.1 1574.8 606.4 1576.7 608.7 1578.6 611.0 1580.5 613.3 1582.4 615.6 1584.3 618.0 1586.2 620.3 1588.1 622.6 1590.0 624.9 1591.9 627.3 1593.8 629.6 1595.7 631.9 1597.5 634.3 1599.4 636.6 1601.3 638.9 1603.2 641.3 1605.1 643.6 1606.9 646.0 1608.8 648.3 1610.7 650.6 1612.6 653.0 1614.4 655.3 1616.3 657.7 1618.2 660.0 1620.0 662.4 1621.9 664.7 1623.7 667.1 1625.6 669.4 1627.5 671.8 1629.3 674.2 1631.2 676.5 1633.0 678.9 1634.9 681.2 1636.7 683.6 1638.5 686.0 1640.4 688.3 1642.2 690.7 1644.1 693.1 1645.9 695.5 1647.7 697.8 1649.6 700.2 1651.4 702.6 1653.2 705.0 1655.0 707.4 1656.8 709.7 1658.7 712.1 1660.5 714.5 1662.3 716.9 1664.1 719.3 1665.9 721.7 1667.7 724.1 1669.5 726.5 1671.4 728.9 1673.2 731.3 1675.0 733.7 1676.8 736.1 1678.6 738.5 1680.4 740.9 1682.2 743.3 1684.0 745.6 1685.8 748.0 1687.6 750.4 1689.4 752.8 1691.2 755.2 1693.1 757.6 1694.9 760.0 1696.7 762.3 1698.6 764.7 1700.4 767.1 1702.2 769.5 1704.1 771.8 1705.9 774.2 1707.7 776.6 1709.6 778.9 1711.4 781.3 1713.3 783.7 1715.1 786.0 1716.9 788.4 1718.8 790.8 1720.6 793.2 1722.5 795.5 1724.3 797.9 1726.1 800.3 1728.0 802.6 1729.8 805.0 1731.6 807.4 1733.5 809.8 1735.3 812.2 1737.1 814.5 1738.9 816.9 1740.7 819.3 1742.5 821.7 1744.3 824.1 1746.2 826.5 1748.0 828.9 1749.7 831.3 1751.5 833.7 1753.3 836.1 1755.1 838.5 1756.9 841.0 1758.6 843.4 1760.4 845.8 1762.2 848.2 1763.9 850.7 1765.7 853.1 1767.4 855.5 1769.2 858.0 1770.9 860.4 1772.7 862.9 1774.4 865.3 1776.1 867.7 1777.9 870.2 1779.6 872.6 1781.4 875.1 1783.1 877.5 1784.8 880.0 1786.6 882.4 1788.3 884.9 1790.0 887.3 1791.8 889.7 1793.5 892.2 1795.3 894.6 1797.0 897.1 1798.7 899.5 1800.5 902.0 1802.2 904.4 1804.0 906.8 1805.7 909.3 1807.5 911.7 1809.3 914.1 1811.0 916.6 1812.8 919.0 1814.6 921.4 1816.3 923.8 1818.1 926.2 1819.9 928.6 1821.7 931.1 1823.5 933.5 1825.3 935.9 1827.0 938.3 1828.8 940.7 1830.6 943.1 1832.4 945.5 1834.2 947.9 1836.0 950.3 1837.8 952.7 1839.6 955.1 1841.4 957.5 1843.2 959.9 1845.0 962.3 1846.8 964.7 1848.6 967.1 1850.4 969.5 1852.2 971.9 1854.0 974.3 1855.8 976.8 1857.5 979.2 1859.3 981.6 1861.1 984.0 1862.9 986.4 1864.6 988.9 1866.4 991.3 1868.1 993.7 1869.9 996.1 1871.7 998.6 1873.4 1001.0 1875.2 1003.4 1876.9 1005.9 1878.7 1008.3 1880.4 1010.7 1882.2 1013.2 1884.0 1015.6 1885.7 1018.0 1887.5 1020.5 1889.2 1022.9 1891.0 1025.3 1892.7 1027.7 1894.5 1030.2 1896.3 1032.6 1898.0 1035.0 1899.8 1037.5 1901.6 1039.9 1903.3 1042.3 1905.1 1044.7 1906.9 1047.2 1908.6 1049.6 1910.4 1052.0" stroke="#ecae1c"/>
</g>
<text x="222.3" y="1423.2" font-size="52.0" text-anchor="middle">0</text>
<text x="561.1" y="1423.2" font-size="52.0" text-anchor="middle">0.2</text>
<text x="898.4" y="1423.2" font-size="52.0" text-anchor="middle">0.4</text>
<text x="1235.8" y="1423.2" font-size="52.0" text-anchor="middle">0.6</text>
<text x="1573.1" y="1423.2" font-size="52.0" text-anchor="middle">0.8</text>
<text class="one" x="1910.9" y="1424.4" font-size="51.0" text-anchor="middle">1</text>
<text x="203.0" y="1369.3" font-size="52.0" text-anchor="end">0.6</text>
<text x="203.0" y="1213.7" font-size="52.0" text-anchor="end">0.65</text>
<text x="203.0" y="1058.1" font-size="52.0" text-anchor="end">0.7</text>
<text x="203.0" y="902.5" font-size="52.0" text-anchor="end">0.75</text>
<text x="203.0" y="746.9" font-size="52.0" text-anchor="end">0.8</text>
<text x="203.0" y="591.3" font-size="52.0" text-anchor="end">0.85</text>
<text x="203.0" y="435.7" font-size="52.0" text-anchor="end">0.9</text>
<text x="203.0" y="280.1" font-size="52.0" text-anchor="end">0.95</text>
<text class="one" x="203.0" y="125.3" font-size="51.0" text-anchor="end">1</text>
<text x="1066.5" y="1501.4" font-size="58.5" text-anchor="middle">TRR</text>
<text transform="translate(73.5 702.4) rotate(-90)" x="0" y="0" font-size="58.5" text-anchor="middle">PPV</text>
<rect x="399.6" y="714.2" width="474.9" height="258.4" fill="#fff" stroke="#4a4a4a" stroke-width="3.2"/>
<path d="M457.9 751.6 H614.2" stroke="#72aa2b" stroke-width="7.5"/>
<text transform="translate(626.0 769.9) scale(1 1.060)" font-size="46.2">IF</text>
<path d="M457.9 813.1 H614.2" stroke="#ff0da5" stroke-width="7.5"/>
<text transform="translate(626.0 831.9) scale(1 1.060)" font-size="46.2">K-Means</text>
<path d="M457.9 874.6 H614.2" stroke="#0c63b1" stroke-width="7.5"/>
<text transform="translate(626.0 893.9) scale(1 1.060)" font-size="46.2">KPCA-IF</text>
<path d="M457.9 936.1 H614.2" stroke="#ecae1c" stroke-width="7.5"/>
<text transform="translate(626.0 955.9) scale(1 1.060)" font-size="46.2">LOF</text>
</svg></body></html>
